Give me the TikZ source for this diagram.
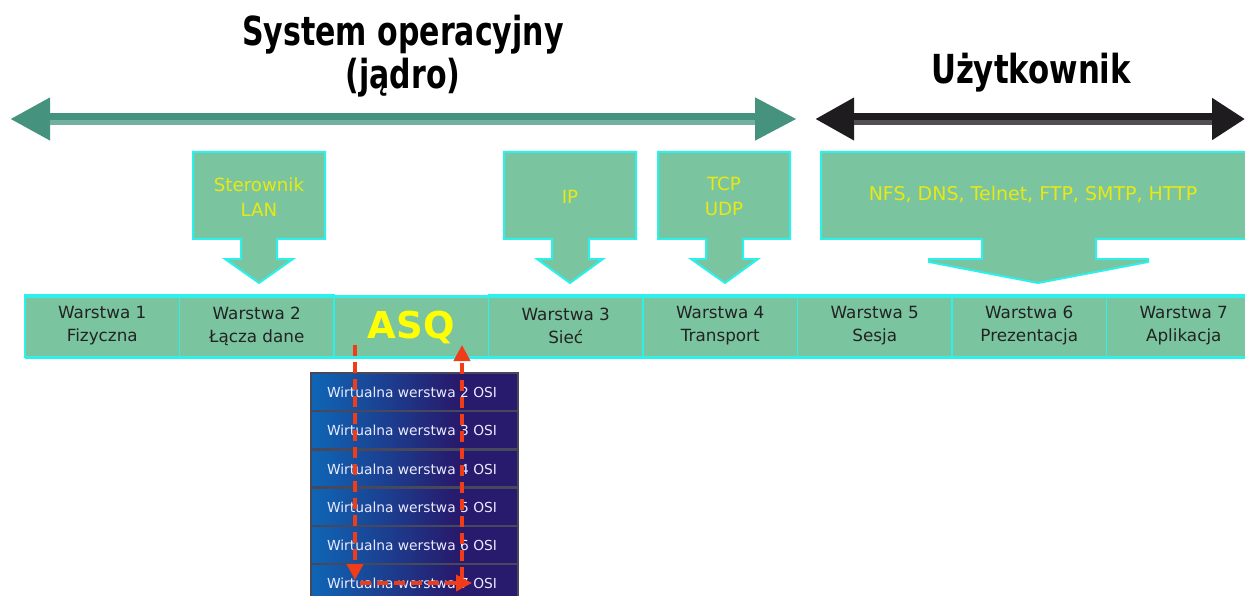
\documentclass[tikz,border=0pt]{standalone}
\usepackage{fontspec}
\setmainfont{DejaVu Sans}
\usetikzlibrary{arrows.meta}
\definecolor{cellgreen}{RGB}{122,197,160}
\definecolor{cyanedge}{RGB}{45,240,235}
\definecolor{tealdark}{RGB}{69,147,127}
\definecolor{teallight}{RGB}{116,176,160}
\definecolor{blackdark}{RGB}{30,28,30}
\definecolor{blackgrey}{RGB}{80,80,80}
\definecolor{boxyellow}{RGB}{232,232,20}
\definecolor{asqyellow}{RGB}{255,255,0}
\definecolor{layertext}{RGB}{35,35,35}
\definecolor{vblue}{RGB}{15,102,182}
\definecolor{vnavy}{RGB}{40,26,108}
\definecolor{vsepcol}{RGB}{72,72,92}
\definecolor{redarrow}{RGB}{240,60,25}
\pgfdeclarehorizontalshading{vshade}{100bp}{color(0bp)=(vblue); color(25bp)=(vblue); color(60bp)=(vnavy); color(100bp)=(vnavy)}
\tikzset{
  cell/.style={fill=cellgreen, draw=cyanedge, line width=1.5pt, minimum width=154.5pt, minimum height=62pt, inner sep=0pt, align=center, text=layertext, font=\fontsize{16.8}{23}\selectfont},
  downbox/.style={fill=cellgreen, draw=cyanedge, line width=2pt, line join=miter},
  boxtext/.style={text=boxyellow, align=center, font=\fontsize{18.2}{25}\selectfont, inner sep=0pt},
  title/.style={text=black, align=center, font=\bfseries\fontsize{40}{40}\selectfont, inner sep=0pt},
  vrow/.style={shading=vshade},
  vtext/.style={text=white!92!blue, font=\fontsize{13.8}{16}\selectfont, inner sep=0pt},
  vsep/.style={draw=vsepcol, line width=2.5pt},
  redpath/.style={draw=redarrow, line width=3.8pt, dash pattern=on 11pt off 6pt, -{Triangle[length=16pt,width=16pt]}},
}
\begin{document}
\begin{tikzpicture}[x=1pt,y=-1pt]
\useasboundingbox (0,0) rectangle (1245,596);

% titles
\node[title] (os) at (403,56) {\scalebox{0.75}[1]{System operacyjny}\\[3pt]\scalebox{0.75}[1]{(jądro)}};
\node[title] (user) at (1031,73) {\scalebox{0.77}[1]{Użytkownik}};

% double arrows
\coordinate (osL) at (10,119);
\coordinate (osR) at (797,119);
\coordinate (uL) at (815,119);
\coordinate (uR) at (1245,119);
\draw[tealdark, line width=12pt, {Triangle[length=40pt,width=40pt]}-{Triangle[length=42pt,width=40pt]}] (osL) -- (osR);
\draw[teallight, line width=5pt] (50,122.5) -- (755,122.5);
\draw[blackdark, line width=12pt, {Triangle[length=39pt,width=40pt]}-{Triangle[length=33pt,width=40pt]}] (uL) -- (uR);
\draw[blackgrey, line width=5pt] (854,122.5) -- (1212,122.5);

% down-pointing boxes
\draw[downbox] (193,152) -- (325,152) -- (325,239) -- (277,239) -- (277,259) -- (293,259) -- (259,283) -- (225,259) -- (241,259) -- (241,239) -- (193,239) -- cycle;
\draw[downbox] (504,152) -- (636,152) -- (636,239) -- (589,239) -- (589,259) -- (603,259) -- (570,283) -- (537,259) -- (552,259) -- (552,239) -- (504,239) -- cycle;
\draw[downbox] (658,152) -- (790,152) -- (790,239) -- (743,239) -- (743,259) -- (758,259) -- (725,283) -- (691,259) -- (706,259) -- (706,239) -- (658,239) -- cycle;
\draw[downbox] (821,152) -- (1250,152) -- (1250,239) -- (1096,239) -- (1096,259) -- (1148,259) -- (1148,262) -- (1038,283) -- (929,262) -- (929,259) -- (982,259) -- (982,239) -- (821,239) -- cycle;

\node[boxtext] (lan) at (259,197) {Sterownik\\LAN};
\node[boxtext] (ip) at (570,197) {IP};
\node[boxtext] (tcp) at (724,196) {TCP\\UDP};
\node[boxtext, font=\fontsize{19}{25}\selectfont] (apps) at (1033,194) {NFS, DNS, Telnet, FTP, SMTP, HTTP};

% layer row
\node[cell] (l1) at (102.25,326) {Warstwa 1\\Fizyczna};
\node[cell] (l2) at (256.75,326) {Warstwa 2\\Łącza dane};
\node[cell, text=asqyellow, font=\bfseries\fontsize{37}{40}\selectfont] (asq) at (411.25,327) {ASQ};
\node[cell] (l3) at (565.75,326) {Warstwa 3\\Sieć};
\node[cell] (l4) at (720.25,326) {Warstwa 4\\Transport};
\node[cell] (l5) at (874.75,326) {Warstwa 5\\Sesja};
\node[cell] (l6) at (1029.25,326) {Warstwa 6\\Prezentacja};
\node[cell] (l7) at (1183.75,326) {Warstwa 7\\Aplikacja};
\draw[cyanedge, line width=3pt] (25,296) -- (1245,296);
\draw[cyanedge, line width=3pt] (25,357) -- (1245,357);

% virtual stack
\foreach \i/\n in {0/2,1/3,2/4,3/5,4/6,5/7}{
  \shade[vrow] (311,{373+38.2*\i}) rectangle (518,{373+38.2*(\i+1)});
  \node[vtext] (v\n) at (412,{373+38.2*\i+19.5}) {Wirtualna werstwa \n\ OSI};
}
\foreach \i in {1,...,5}{
  \draw[vsep] (311,{373+38.2*\i}) -- (518,{373+38.2*\i});
}
\draw[vsepcol, line width=2pt] (311,600) -- (311,373) -- (518,373) -- (518,600);

% red dashed path
\coordinate (r1) at (355,345);
\coordinate (r2) at (355,580);
\coordinate (r3) at (360,583);
\coordinate (r4) at (472,583);
\coordinate (r5) at (462,578);
\coordinate (r6) at (462,345);
\draw[redpath] (r1) -- (r2);
\draw[redpath] (r3) -- (r4);
\draw[redpath] (r5) -- (r6);
\end{tikzpicture}
\end{document}
